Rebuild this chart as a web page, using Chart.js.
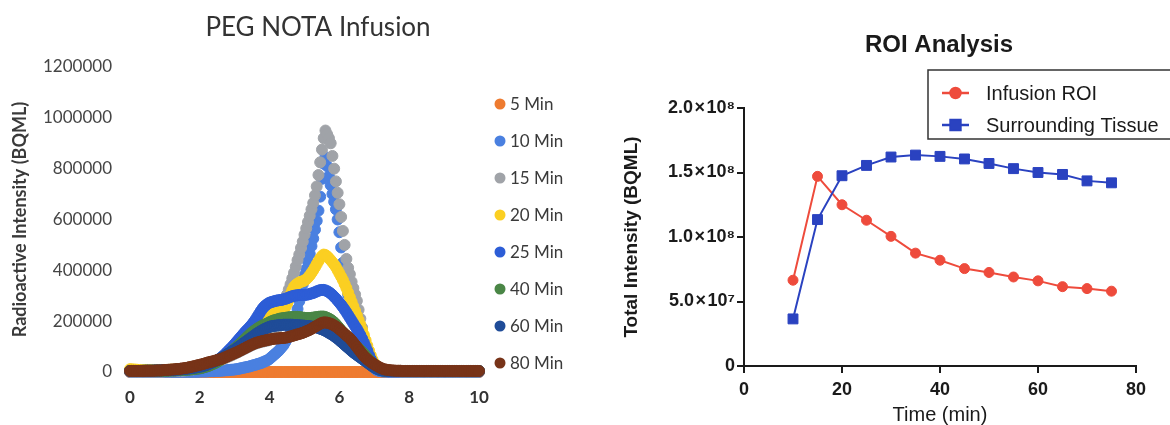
<!DOCTYPE html>
<html>
<head>
<meta charset="utf-8">
<script src="https://cdn.jsdelivr.net/npm/chart.js@4.4.1/dist/chart.umd.min.js"></script>
<style>
  html, body { margin: 0; padding: 0; background: #ffffff; }
  #wrap { position: relative; width: 1170px; height: 425px; overflow: hidden; background: #ffffff; }
  canvas { position: absolute; top: 0; }
  #profile { left: 0; }
  #roi { left: 600px; }
</style>
</head>
<body>
<div id="wrap">
  <canvas id="profile" width="600" height="425"></canvas>
  <canvas id="roi" width="570" height="425"></canvas>
</div>
<script>
// ---- Line profile across the infusion site (values in thousands of Bq/mL) ----
const profilePosition = [
  0,0.05,0.1,0.15,0.2,0.25,0.3,0.35,0.4,0.45,0.5,0.55,0.6,0.65,0.7,0.75,0.8,0.85,0.9,0.95,
  1,1.05,1.1,1.15,1.2,1.25,1.3,1.35,1.4,1.45,1.5,1.55,1.6,1.65,1.7,1.75,1.8,1.85,1.9,1.95,
  2,2.05,2.1,2.15,2.2,2.25,2.3,2.35,2.4,2.45,2.5,2.55,2.6,2.65,2.7,2.75,2.8,2.85,2.9,2.95,
  3,3.05,3.1,3.15,3.2,3.25,3.3,3.35,3.4,3.45,3.5,3.55,3.6,3.65,3.7,3.75,3.8,3.85,3.9,3.95,
  4,4.05,4.1,4.15,4.2,4.25,4.3,4.35,4.4,4.45,4.5,4.55,4.6,4.65,4.7,4.75,4.8,4.85,4.9,4.95,
  5,5.05,5.1,5.15,5.2,5.25,5.3,5.35,5.4,5.45,5.5,5.55,5.6,5.65,5.7,5.75,5.8,5.85,5.9,5.95,
  6,6.05,6.1,6.15,6.2,6.25,6.3,6.35,6.4,6.45,6.5,6.55,6.6,6.65,6.7,6.75,6.8,6.85,6.9,6.95,
  7,7.05,7.1,7.15,7.2,7.25,7.3,7.35,7.4,7.45,7.5,7.55,7.6,7.65,7.7,7.75,7.8,7.85,7.9,7.95,
  8,8.05,8.1,8.15,8.2,8.25,8.3,8.35,8.4,8.45,8.5,8.55,8.6,8.65,8.7,8.75,8.8,8.85,8.9,8.95,
  9,9.05,9.1,9.15,9.2,9.25,9.3,9.35,9.4,9.45,9.5,9.55,9.6,9.65,9.7,9.75,9.8,9.85,9.9,9.95,
  10
];

const min5 = [
  0,0,0,0,0,0,0,0,0,0,0,0,0,0,0,0,0,0,0,0,
  0,0,0,0,0,0,0,0,0,0,0,0,0,0,0,0,0,0,0,0,
  0,0,0,0,0,0,0,0,0,0,0,0,0,0,0,0,0,0,0,0,
  0,0,0,0,0,0,0,0,0,0,0,0,0,0,0,0,0,0,0,0,
  0,0,0,0,0,0,0,0,0,0,0,0,0,0,0,0,0,0,0,0,
  0,0,0,0,0,0,0,0,0,0,0,0,0,0,0,0,0,0,0,0,
  0,0,0,0,0,0,0,0,0,0,0,0,0,0,0,0,0,0,0,0,
  0,0,0,0,0,0,0,0,0,0,0,0,0,0,0,0,0,0,0,0,
  0,0,0,0,0,0,0,0,0,0,0,0,0,0,0,0,0,0,0,0,
  0,0,0,0,0,0,0,0,0,0,0,0,0,0,0,0,0,0,0,0,
  0
];

const min10 = [
  1,1,1,1,1,1,1,1,1,1,1,1,1,1,1,1,1,1,1,1,
  1,1,1,1,1,1,1,1,1,1,1,1,1,1,1,1,1,1,1,1,
  2,2,2,2,2,3,3,3,3,4,4,5,5,6,6,7,7,8,9,9,
  10,11,12,14,15,17,18,20,21,23,25,27,29,31,33,35,38,41,44,47,
  52,58,64,70,76,82,90,98,106,118,130,142,155,175,198,222,248,278,310,345,
  380,405,435,465,495,525,560,595,635,690,760,820,845,810,770,735,700,670,640,600,
  550,490,430,380,340,305,272,243,216,190,168,148,128,110,92,75,60,46,34,24,
  16,10,6,4,3,2,2,2,1,1,1,1,1,1,1,1,1,1,1,1,
  1,1,1,1,1,1,1,1,1,1,1,1,1,1,1,1,1,1,1,1,
  1,1,1,1,1,1,1,1,1,1,1,1,1,1,1,1,1,1,1,1,
  1
];

const min15 = [
  2,2,2,2,2,2,2,2,2,2,2,2,2,2,2,2,2,2,2,2,
  3,3,3,3,4,4,4,5,5,5,6,6,7,7,8,9,10,11,12,13,
  25,27,29,31,33,35,37,38,40,42,44,46,48,50,53,56,59,62,65,68,
  72,75,78,82,85,89,92,96,99,103,106,109,112,114,116,118,120,121,123,124,
  126,130,138,150,170,195,215,237,260,283,305,325,345,368,390,415,440,462,488,513,
  540,565,590,615,640,665,695,730,775,825,875,920,950,935,920,900,850,800,750,705,
  660,610,555,500,445,410,385,355,330,305,280,245,210,175,135,100,80,62,48,38,
  30,22,16,11,8,6,5,4,4,3,3,3,3,3,3,3,3,3,3,3,
  3,3,3,3,3,3,3,3,3,3,3,3,3,3,3,3,3,3,3,3,
  3,3,3,3,3,3,3,3,3,3,3,3,3,3,3,3,3,3,3,3,
  3
];

const min20 = [
  11,10,10,9,9,8,8,8,8,8,8,8,8,8,8,8,8,8,8,8,
  8,8,8,9,9,9,9,10,10,10,11,11,12,12,13,14,15,16,17,18,
  19,20,22,24,26,28,30,33,36,39,42,45,49,53,57,61,65,70,75,80,
  85,92,100,108,116,124,132,140,148,156,164,172,180,188,196,204,212,220,226,230,
  233,236,238,240,241,242,243,245,248,255,268,285,305,322,335,343,348,352,355,357,
  360,365,372,380,390,400,412,424,436,447,456,462,460,455,448,440,432,423,413,400,
  388,375,362,346,330,312,294,276,258,240,222,204,186,166,146,125,104,84,65,48,
  34,24,17,12,9,7,6,5,5,4,4,4,4,4,4,3,3,3,3,3,
  3,3,3,3,3,3,3,3,3,3,3,3,3,3,3,3,3,3,3,3,
  3,3,3,3,3,3,3,3,3,3,3,3,3,3,3,3,3,3,3,3,
  3
];

const min25 = [
  4,4,4,4,4,4,4,4,4,4,5,5,5,5,5,5,5,5,5,5,
  5,5,5,6,6,6,6,7,7,7,8,8,9,9,10,10,11,11,12,13,
  14,16,18,20,23,26,29,33,37,41,45,50,55,61,67,74,81,88,95,102,
  110,118,126,134,142,150,158,165,172,180,188,197,207,218,229,240,250,258,264,269,
  273,275,277,279,281,282,283,284,286,288,290,293,296,298,300,301,302,303,303,303,
  303,304,305,307,309,311,314,317,320,322,323,323,321,318,314,309,303,296,289,281,
  273,264,255,245,235,224,213,202,191,180,170,158,145,131,116,100,84,66,50,37,
  26,18,13,9,7,5,4,4,3,3,3,3,3,3,3,3,3,3,3,3,
  3,3,3,3,3,3,3,3,3,3,3,3,3,3,3,3,3,3,3,3,
  3,3,3,3,3,3,3,3,3,3,3,3,3,3,3,3,3,3,3,3,
  3
];

const min40 = [
  4,4,4,4,4,4,4,4,5,5,5,5,5,5,5,5,5,5,5,5,
  5,5,5,6,6,6,6,7,7,7,8,8,9,9,10,10,11,12,13,14,
  15,16,18,20,22,24,27,30,33,36,40,44,49,54,59,64,70,75,80,86,
  92,98,104,110,117,123,130,137,143,150,156,161,166,171,175,179,183,186,189,192,
  196,199,202,204,206,208,210,211,212,213,214,215,216,216,217,217,217,216,215,214,
  213,212,212,212,213,214,215,216,217,218,218,218,216,213,210,206,201,195,188,180,
  172,164,156,149,142,135,128,121,114,107,100,93,86,79,72,64,56,48,40,32,
  25,19,14,10,8,6,5,5,4,4,4,4,4,4,4,4,4,4,4,4,
  4,4,4,4,4,4,4,4,4,4,4,4,4,4,4,4,4,4,4,4,
  4,4,4,4,4,4,4,4,4,4,4,4,4,4,4,4,4,4,4,4,
  4
];

const min60 = [
  4,4,4,4,4,4,4,5,5,5,5,5,5,5,6,6,6,6,7,7,
  7,7,7,8,8,8,9,9,10,10,11,12,13,13,14,15,16,17,18,20,
  21,22,24,26,28,31,34,37,40,43,46,50,54,58,62,66,71,75,80,84,
  88,93,98,103,108,113,118,123,128,133,138,143,148,153,157,161,165,169,172,175,
  178,180,181,182,183,184,185,185,186,186,186,186,186,186,185,185,184,184,183,183,
  182,181,181,180,179,178,177,175,173,170,168,165,162,158,154,150,146,141,136,131,
  125,119,113,107,101,95,89,83,77,72,67,62,57,52,47,42,37,32,27,22,
  18,14,11,9,7,6,5,5,4,4,4,4,4,4,4,4,4,4,4,4,
  4,4,4,4,4,4,4,4,4,4,4,4,4,4,4,4,4,4,4,4,
  4,4,4,4,4,4,4,4,4,4,4,4,4,4,4,4,4,4,4,4,
  4
];

const min80 = [
  4,4,4,4,4,4,4,4,4,5,5,5,5,5,5,6,6,6,6,7,
  8,8,9,9,10,10,11,12,12,13,14,15,16,17,19,20,22,23,25,27,
  28,30,32,34,36,38,40,41,43,45,47,49,51,53,56,59,62,65,68,71,
  74,77,80,84,87,91,94,98,101,105,108,111,114,116,118,120,122,123,125,126,
  128,129,130,131,132,132,133,134,134,135,136,138,140,142,144,146,148,150,152,154,
  157,160,163,166,170,174,178,182,186,190,193,195,195,194,192,190,187,183,179,174,
  168,162,156,150,144,138,132,124,116,107,98,89,80,71,63,56,50,44,39,34,
  30,26,22,18,15,12,10,9,8,7,6,6,5,5,5,5,4,4,4,4,
  4,4,4,4,4,4,4,4,4,4,4,4,4,4,4,4,4,4,4,4,
  4,4,4,4,4,4,4,4,4,4,4,4,4,4,4,4,4,4,4,4,
  4
];

const profileLabels = ['5 Min', '10 Min', '15 Min', '20 Min', '25 Min', '40 Min', '60 Min', '80 Min'];
const profileValues = [min5, min10, min15, min20, min25, min40, min60, min80];
const profileColors = ['#ee7b30', '#4a80e0', '#a0a3a8', '#fbcf22', '#2d5dd6', '#4a8646', '#1f4c98', '#773318'];

// ---- ROI totals over time ----
const roiTime = [10, 15, 20, 25, 30, 35, 40, 45, 50, 55, 60, 65, 70, 75];
const infusionROI = [66500000, 147000000, 125000000, 113000000, 100500000, 87500000, 82000000,
                     75500000, 72500000, 69000000, 66000000, 61500000, 60000000, 58000000];
const surroundingTissue = [36500000, 113500000, 147500000, 155500000, 162000000, 163500000, 162500000,
                           160500000, 157000000, 153000000, 150000000, 148500000, 143500000, 142000000];
const roiYTicks = [0, 50000000, 100000000, 150000000, 200000000];
const roiYTickLabels = ['0', '5.0\u200a\u00d7\u200a10\u2077', '1.0\u200a\u00d7\u200a10\u2078',
                        '1.5\u200a\u00d7\u200a10\u2078', '2.0\u200a\u00d7\u200a10\u2078'];

// Draws panel titles and keys that sit outside the library's own layout boxes.
const panelDecor = {
  id: 'panelDecor',
  afterDraw(chart, args, opts) {
    const ctx = chart.ctx;
    ctx.save();
    if (opts.title) {
      const t = opts.title;
      ctx.font = t.font;
      ctx.fillStyle = t.color;
      ctx.textAlign = 'center';
      ctx.textBaseline = 'middle';
      ctx.fillText(t.text, t.x, t.y);
    }
    if (opts.dotKey) {
      const k = opts.dotKey;
      chart.data.datasets.forEach((ds, i) => {
        const y = k.y + i * k.gap;
        ctx.beginPath();
        ctx.arc(k.x, y, k.r, 0, Math.PI * 2);
        ctx.fillStyle = ds.backgroundColor;
        ctx.fill();
        ctx.font = k.font;
        ctx.fillStyle = k.color;
        ctx.textAlign = 'left';
        ctx.textBaseline = 'middle';
        ctx.fillText(ds.label, k.textX, y + 1);
      });
    }
    if (opts.boxKey) {
      const k = opts.boxKey;
      ctx.fillStyle = '#ffffff';
      ctx.fillRect(k.left, k.top, k.width, k.height);
      ctx.strokeStyle = k.border;
      ctx.lineWidth = 1.5;
      ctx.strokeRect(k.left, k.top, k.width, k.height);
      chart.data.datasets.forEach((ds, i) => {
        const y = k.rowY[i];
        ctx.strokeStyle = ds.borderColor;
        ctx.lineWidth = 2.5;
        ctx.beginPath();
        ctx.moveTo(k.lineX0, y);
        ctx.lineTo(k.lineX1, y);
        ctx.stroke();
        Chart.helpers.drawPoint(ctx, {pointStyle: ds.pointStyle, radius: ds.pointRadius, rotation: 0, borderWidth: 1},
          (k.lineX0 + k.lineX1) / 2, y);
        ctx.fillStyle = ds.backgroundColor;
        ctx.fill();
        ctx.font = k.font;
        ctx.fillStyle = k.color;
        ctx.textAlign = 'left';
        ctx.textBaseline = 'middle';
        ctx.fillText(ds.label, k.textX, y + 1);
      });
    }
    ctx.restore();
  }
};

const calibriLike = 'Lato, "Open Sans", sans-serif';
const arialLike = '"Liberation Sans", Arial, sans-serif';

new Chart(document.getElementById('profile'), {
  type: 'scatter',
  data: {
    datasets: profileLabels.map((label, i) => ({
      label,
      data: profilePosition.map((x, k) => ({x, y: profileValues[i][k] * 1000})),
      backgroundColor: profileColors[i],
      borderColor: profileColors[i],
      pointRadius: 5.5,
      pointBorderWidth: 1,
      showLine: false,
      clip: false,
      order: profileLabels.length - i
    }))
  },
  options: {
    responsive: false,
    animation: false,
    events: [],
    layout: {padding: {top: 67, right: 121, left: 0, bottom: 0}},
    plugins: {
      legend: {display: false},
      tooltip: {enabled: false},
      panelDecor: {
        title: {text: 'PEG NOTA Infusion', x: 318, y: 28, font: '26px ' + calibriLike, color: '#333333'},
        dotKey: {x: 500, y: 104, gap: 37, r: 5.5, textX: 510, font: '17px ' + calibriLike, color: '#3a3a3a'}
      }
    },
    scales: {
      x: {
        type: 'linear', min: 0, max: 10,
        grid: {display: false, drawTicks: false},
        border: {display: false},
        ticks: {stepSize: 2, padding: 15, color: '#333333', font: {family: calibriLike, size: 17, weight: 'bold'}},
        afterFit(scale) { scale.height = 53; }
      },
      y: {
        min: 0, max: 1200000,
        grid: {display: false, drawTicks: false},
        border: {display: false},
        ticks: {stepSize: 200000, padding: 18, color: '#454545', font: {family: calibriLike, size: 17},
                callback: (v) => String(v)},
        title: {display: true, text: 'Radioactive Intensity (BQML)', color: '#3a3a3a',
                font: {family: calibriLike, size: 18, weight: 'bold'}, padding: {top: 9, bottom: 0}},
        afterFit(scale) { scale.width = 130; }
      }
    }
  },
  plugins: [panelDecor]
});

const axisInk = '#1a1a1a';
new Chart(document.getElementById('roi'), {
  type: 'line',
  data: {
    datasets: [
      {label: 'Infusion ROI', data: roiTime.map((t, i) => ({x: t, y: infusionROI[i]})),
       borderColor: '#ee4b3c', backgroundColor: '#ee4b3c', pointStyle: 'circle', pointRadius: 5,
       borderWidth: 2, pointBorderWidth: 1, order: 1},
      {label: 'Surrounding Tissue', data: roiTime.map((t, i) => ({x: t, y: surroundingTissue[i]})),
       borderColor: '#2a42c0', backgroundColor: '#2a42c0', pointStyle: 'rect', pointRadius: 7,
       borderWidth: 2, pointBorderWidth: 1, order: 0}
    ]
  },
  options: {
    responsive: false,
    animation: false,
    events: [],
    layout: {padding: {top: 108, right: 34, left: 0, bottom: 0}},
    plugins: {
      legend: {display: false},
      tooltip: {enabled: false},
      panelDecor: {
        title: {text: 'ROI Analysis', x: 339, y: 45, font: 'bold 24px ' + arialLike, color: axisInk},
        boxKey: {left: 328, top: 70, width: 300, height: 69, border: '#333333',
                 rowY: [93, 125], lineX0: 342, lineX1: 369, textX: 386,
                 font: '20px ' + arialLike, color: axisInk}
      }
    },
    scales: {
      x: {
        type: 'linear', min: 0, max: 80,
        grid: {display: true, drawOnChartArea: false, drawTicks: true, tickLength: 7, color: axisInk, lineWidth: 2},
        border: {display: true, color: axisInk, width: 2},
        ticks: {stepSize: 20, padding: 6, color: axisInk, font: {family: arialLike, size: 18, weight: 'bold'}},
        title: {display: true, text: 'Time (min)', color: axisInk,
                font: {family: arialLike, size: 20, lineHeight: 1}, padding: {top: 0, bottom: 0}},
        afterFit(scale) { scale.height = 59; }
      },
      y: {
        type: 'linear', min: 0, max: 200000000,
        grid: {display: true, drawOnChartArea: false, drawTicks: true, tickLength: 7, color: axisInk, lineWidth: 2},
        border: {display: true, color: axisInk, width: 2},
        ticks: {stepSize: 50000000, padding: 2, color: axisInk, font: {family: arialLike, size: 18, weight: 'bold'},
                callback: (v) => roiYTickLabels[roiYTicks.indexOf(v)]},
        title: {display: true, text: 'Total Intensity (BQML)', color: axisInk,
                font: {family: arialLike, size: 19, weight: 'bold', lineHeight: 1}, padding: {top: 22, bottom: 0}},
        afterFit(scale) { scale.width = 144; }
      }
    }
  },
  plugins: [panelDecor]
});
</script>
</body>
</html>
